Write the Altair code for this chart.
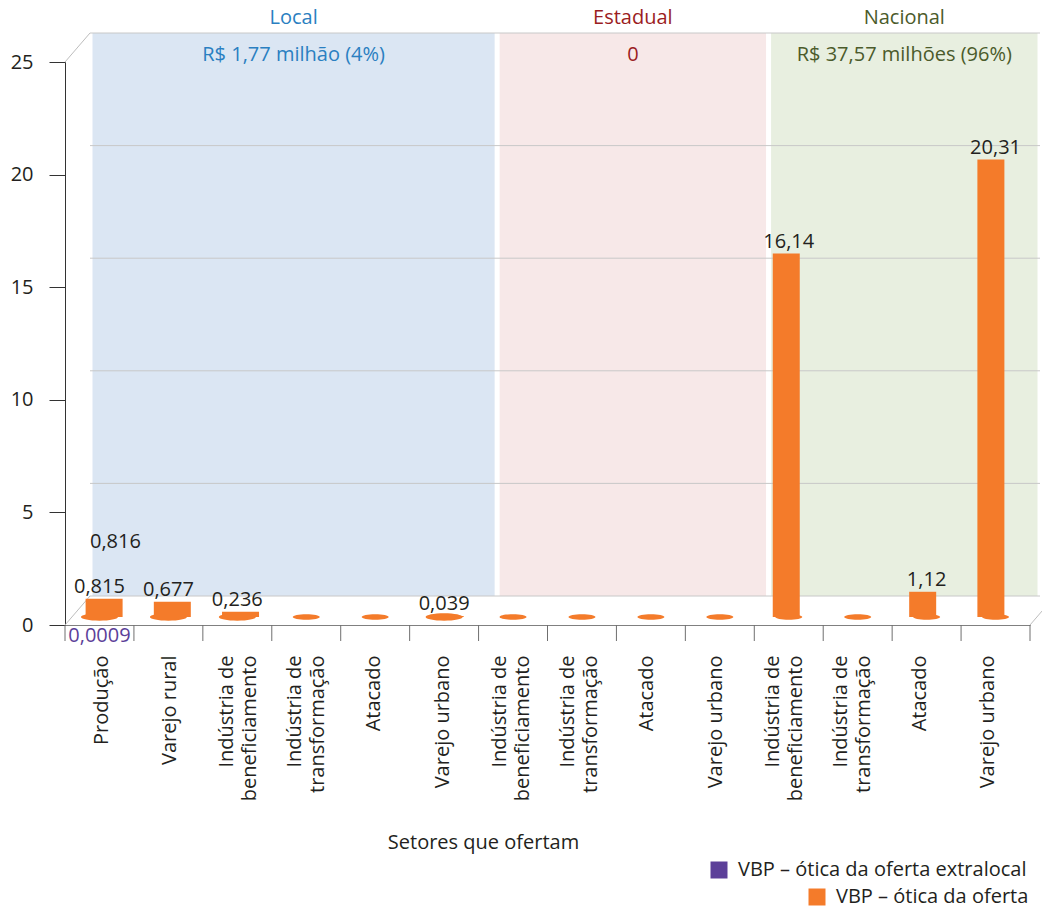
import altair as alt
import pandas as pd

# ---- data -------------------------------------------------------------
sectors = [
    "Produção", "Varejo rural", "Indústria de|beneficiamento",
    "Indústria de|transformação", "Atacado", "Varejo urbano",
    "Indústria de|beneficiamento", "Indústria de|transformação",
    "Atacado", "Varejo urbano",
    "Indústria de|beneficiamento", "Indústria de|transformação",
    "Atacado", "Varejo urbano",
]
regions = ["Local"] * 6 + ["Estadual"] * 4 + ["Nacional"] * 4
oferta = [0.815, 0.677, 0.236, 0, 0, 0.039, 0, 0, 0, 0, 16.14, 0, 1.12, 20.31]
extralocal = [0.0009, 0, 0, 0, 0, 0, 0, 0, 0, 0, 0, 0, 0, 0]

region_names = ["Local", "Estadual", "Nacional"]
region_start = [0, 6, 10]
region_end = [6, 10, 14]
region_totals = ["R$ 1,77 milhão (4%)", "0", "R$ 37,57 milhões (96%)"]

y_ticks = [0, 5, 10, 15, 20, 25]

SERIES_EXTRA = "VBP – ótica da oferta extralocal"
SERIES_OFERTA = "VBP – ótica da oferta"

# ---- styling ----------------------------------------------------------
W, H = 965, 563
DX, DY = 25, -29          # depth of the pseudo-3D back wall
BASE = -8                 # bars sit slightly behind the front axis
FS = 20
ORANGE = "#f47b2a"
PURPLE = "#5c3f99"
TEXT = "#231f20"
GRID = "#c8c8c8"
header_colors = ["#2a7fc1", "#9b1c22", "#4b5b2b"]
panel_colors = ["#dbe6f3", "#f7e8e8", "#e8efe0"]
ELLIPSE = "M -1 0 A 1 0.2 0 1 0 1 0 A 1 0.2 0 1 0 -1 0 Z"


def br(v):
    return f"{v:g}".replace(".", ",")


df = pd.DataFrame({
    "idx": list(range(len(sectors))),
    "sector": sectors,
    "region": regions,
    "oferta": oferta,
    "extralocal": extralocal,
})
df["pos"] = df["idx"] + 0.5
df["floor"] = 0
df["wide"] = (df["region"] == "Local") & (df["oferta"] > 0)
df["label"] = [br(v) if v > 0 else "" for v in oferta]
df["total"] = [round(a + b, 3) for a, b in zip(oferta, extralocal)]
df["total_label"] = [br(t) if e > 0 else "" for t, e in zip(df["total"], extralocal)]
df["extra_label"] = [br(e) if e > 0 else "" for e in extralocal]
df["s_extra"] = SERIES_EXTRA
df["s_oferta"] = SERIES_OFERTA

reg = pd.DataFrame({
    "region": region_names,
    "start": region_start,
    "end": region_end,
    "total": region_totals,
    "panel": panel_colors,
    "hcolor": header_colors,
})
reg["center"] = (reg["start"] + reg["end"]) / 2
reg["lo"] = 0
reg["hi"] = 25

grid_df = pd.DataFrame({"v": y_ticks, "x0": 0, "x1": len(sectors)})
corner_df = pd.DataFrame({"cx": [0, 0, len(sectors)], "cy": [25, 0, 0]})
bound_df = pd.DataFrame({"b": list(range(len(sectors) + 1))})

xf = alt.Scale(domain=[0, len(sectors)], nice=False, zero=False)
xb = alt.Scale(domain=[0, len(sectors)], range=[DX, DX + 950], nice=False, zero=False)
ys = alt.Scale(domain=[0, 25], nice=False)

Y_AXIS = alt.Axis(
    values=y_ticks, format="d", grid=False, title=None,
    domainColor="#333333", tickColor="#333333", tickSize=16,
    labelPadding=16, labelFontSize=FS, labelColor=TEXT,
    labelFlush=False, labelBound=False,
)


def Y(field):
    return alt.Y(field, scale=ys, axis=Y_AXIS)


tick_values = [i + 0.5 for i in range(len(sectors))]
two_line = [v for v, s in zip(tick_values, sectors) if "|" in s]
label_expr = "split([" + ",".join(f"'{s}'" for s in sectors) + "][floor(datum.value)], '|')"
two_line_test = "indexof([" + ",".join(str(v) for v in two_line) + "], datum.value) >= 0"

# ---- back wall --------------------------------------------------------
panels = alt.Chart(reg).mark_rect(xOffset=2.5, x2Offset=-2.5, yOffset=DY, y2Offset=DY).encode(
    x=alt.X("start:Q", scale=xb, axis=None),
    x2="end:Q",
    y=Y("lo:Q"),
    y2="hi:Q",
    color=alt.Color("panel:N", scale=None, legend=None),
)

grid = alt.Chart(grid_df).mark_rule(color=GRID, strokeWidth=1, yOffset=DY, y2Offset=DY).encode(
    x=alt.X("x0:Q", scale=xb, axis=None),
    x2="x1:Q",
    y=Y("v:Q"),
)

headers = alt.Chart(reg).mark_text(fontSize=FS, yOffset=DY, dy=-15, baseline="middle").encode(
    x=alt.X("center:Q", scale=xb, axis=None),
    y=Y("hi:Q"),
    text="region:N",
    color=alt.Color("hcolor:N", scale=None, legend=None),
)

subheaders = alt.Chart(reg).mark_text(fontSize=FS, yOffset=DY, dy=22, baseline="middle").encode(
    x=alt.X("center:Q", scale=xb, axis=None),
    y=Y("hi:Q"),
    text="total:N",
    color=alt.Color("hcolor:N", scale=None, legend=None),
)

diagonals = alt.Chart(corner_df).mark_rule(color="#bdbdbd", strokeWidth=1, x2Offset=DX, y2Offset=DY).encode(
    x=alt.X("cx:Q", scale=xf, axis=None),
    x2="cx:Q",
    y=Y("cy:Q"),
    y2="cy:Q",
)

# ---- front axis ticks at category boundaries ---------------------------
bounds = alt.Chart(bound_df).mark_rule(color="#6f6f6f", strokeWidth=1).encode(
    x=alt.X("b:Q", scale=xf, axis=None),
    y=alt.value(H),
    y2=alt.value(H + 16),
)

# ---- bars -------------------------------------------------------------
ellipses = alt.Chart(df).mark_point(
    shape=ELLIPSE, filled=True, opacity=1, strokeWidth=0, yOffset=BASE
).encode(
    x=alt.X("pos:Q", scale=xf, axis=None),
    y=Y("floor:Q"),
    size=alt.condition("datum.wide", alt.value(1369), alt.value(729)),
    fill=alt.value(ORANGE),
)

bars = alt.Chart(df).mark_bar(yOffset=BASE, y2Offset=BASE).encode(
    x=alt.X(
        "pos:Q", scale=xf,
        axis=alt.Axis(
            values=tick_values,
            labelExpr=label_expr,
            labelAngle=270, labelAlign="right", labelBaseline="middle",
            labelOffset={"condition": {"test": two_line_test, "value": -14}, "value": -3},
            labelPadding=30, labelFontSize=FS, labelColor=TEXT, labelLineHeight=23,
            labelOverlap=False, labelFlush=False, labelBound=False,
            ticks=False, grid=False, domainColor="#808080", domainWidth=1,
            title="Setores que ofertam", titleFontSize=FS, titleFontWeight="normal",
            titleColor=TEXT, titleX=418, titleY=217, titleBaseline="middle",
            titleAlign="center", titleAnchor="start",
        ),
    ),
    y=Y("oferta:Q"),
    size=alt.condition("datum.wide", alt.value(37), alt.value(27)),
    fill=alt.Fill(
        "s_oferta:N",
        scale=alt.Scale(domain=[SERIES_OFERTA], range=[ORANGE]),
        legend=alt.Legend(
            orient="none", legendX=742, legendY=825, title=None,
            symbolType="square", symbolSize=289, symbolStrokeWidth=0,
            labelFontSize=FS, labelColor=TEXT, labelOffset=9, padding=0,
            labelLimit=0,
        ),
    ),
)

extra_bars = alt.Chart(df[df["extralocal"] > 0]).mark_bar(
    yOffset=BASE, y2Offset=BASE, size=37
).encode(
    x=alt.X("pos:Q", scale=xf, axis=None),
    y=Y("extralocal:Q"),
    color=alt.Color(
        "s_extra:N",
        scale=alt.Scale(domain=[SERIES_EXTRA], range=[PURPLE]),
        legend=alt.Legend(
            orient="none", legendX=644, legendY=798, title=None,
            symbolType="square", symbolSize=289, symbolStrokeWidth=0,
            labelFontSize=FS, labelColor=TEXT, labelOffset=9, padding=0,
            labelLimit=0,
        ),
    ),
)

# ---- value labels -----------------------------------------------------
value_labels = alt.Chart(df[df["oferta"] > 0]).mark_text(
    fontSize=FS, color=TEXT, baseline="alphabetic", dy=-14
).encode(
    x=alt.X("pos:Q", scale=xf, axis=None),
    y=Y("oferta:Q"),
    text="label:N",
)

total_labels = alt.Chart(df[df["extralocal"] > 0]).mark_text(
    fontSize=FS, color=TEXT, baseline="alphabetic", dx=16, dy=-59
).encode(
    x=alt.X("pos:Q", scale=xf, axis=None),
    y=Y("total:Q"),
    text="total_label:N",
)

extra_labels = alt.Chart(df[df["extralocal"] > 0]).mark_text(
    fontSize=FS, color=PURPLE, baseline="middle", dy=11
).encode(
    x=alt.X("pos:Q", scale=xf, axis=None),
    y=Y("extralocal:Q"),
    text="extra_label:N",
)

chart = alt.layer(
    panels, grid, headers, subheaders, diagonals, bounds,
    ellipses, bars, extra_bars, value_labels, total_labels, extra_labels,
).resolve_scale(
    x="independent", color="independent", fill="independent"
).properties(
    width=W, height=H,
    padding={"left": 65, "top": 62, "right": 12, "bottom": 283},
    autosize=alt.AutoSizeParams(type="none"),
).configure(
    font="Open Sans"
).configure_view(stroke=None)

chart.save("out.html", embed_options={"renderer": "svg", "actions": False})
